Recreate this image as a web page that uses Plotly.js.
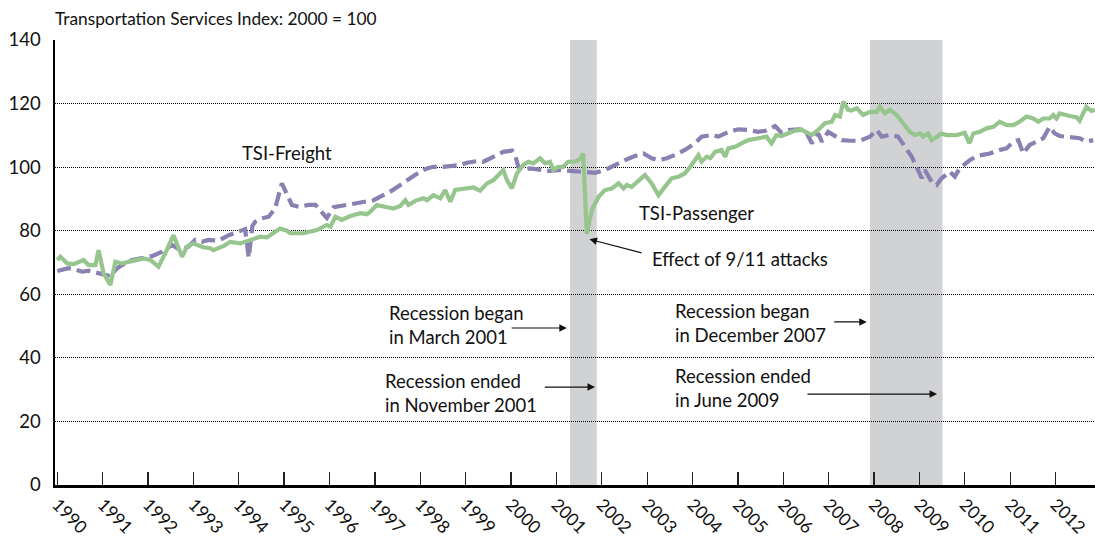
<!DOCTYPE html>
<html>
<head>
<meta charset="utf-8">
<script src="https://cdn.plot.ly/plotly-3.0.1.min.js"></script>
<style>
  html, body { margin: 0; padding: 0; background: #fff; }
  #chart { width: 1095px; height: 537px; }
</style>
</head>
<body>
<div id="chart"></div>
<script>
// ---- Data (x = decimal year) ----
const freightYears = [1990.00,1990.25,1990.40,1990.55,1990.69,1990.84,1991.00,1991.17,1991.32,1991.43,1991.65,1991.87,
  1992.09,1992.31,1992.53,1992.71,1992.89,1993.04,1993.19,1993.33,1993.56,1993.78,1993.96,1994.14,1994.22,1994.30,
  1994.36,1994.51,1994.66,1994.80,1994.95,1995.10,1995.17,1995.32,1995.54,1995.69,1995.83,1995.94,1996.09,1996.24,
  1996.38,1996.53,1996.75,1996.97,1997.12,1997.34,1997.56,1997.78,1998.00,1998.15,1998.29,1998.51,1998.73,1998.88,
  1999.03,1999.25,1999.39,1999.54,1999.69,1999.83,2000.02,2000.09,2000.16,2000.27,2000.42,2000.64,2000.86,2001.08,
  2001.30,2001.52,2001.74,2001.85,2002.07,2002.29,2002.51,2002.73,2002.92,2003.10,2003.25,2003.43,2003.61,2003.83,
  2004.05,2004.20,2004.42,2004.57,2004.79,2005.01,2005.23,2005.45,2005.63,2005.82,2005.96,2006.11,2006.33,2006.48,
  2006.63,2006.77,2006.85,2006.99,2007.14,2007.29,2007.47,2007.69,2007.91,2008.06,2008.17,2008.35,2008.53,2008.68,
  2008.83,2008.97,2009.05,2009.12,2009.27,2009.38,2009.49,2009.67,2009.78,2009.89,2010.11,2010.26,2010.41,2010.55,
  2010.77,2010.92,2011.07,2011.18,2011.29,2011.43,2011.58,2011.73,2011.87,2011.98,2012.09,2012.31,2012.53,2012.68,2012.83];
const freightValues = [67.3,68.2,67.8,67.1,67.4,66.8,66.5,65.7,68.2,69.2,70.8,71.3,
  72.0,73.4,75.5,73.9,75.0,77.1,76.5,77.1,76.9,78.6,79.7,80.5,71.5,81.5,
  82.8,83.9,84.4,87.0,94.9,90.7,88.1,87.5,88.1,88.1,86.0,84.0,87.4,87.8,
  88.1,88.4,89.1,89.6,90.7,92.3,94.4,96.5,98.6,99.6,100.1,100.1,100.3,100.7,
  101.4,101.9,101.7,102.8,103.8,104.8,105.2,103.8,100.1,99.1,99.6,99.1,98.8,99.1,
  98.9,98.6,98.2,98.2,99.1,100.7,102.2,103.5,104.3,102.8,102.2,102.8,103.8,105.4,
  107.5,109.6,110.1,109.6,111.1,111.9,111.7,111.1,111.5,112.9,110.8,111.7,111.9,111.7,
  107.5,110.6,108.0,111.1,109.6,108.5,108.3,108.3,109.6,111.7,109.6,110.1,109.6,106.4,
  103.3,99.1,96.5,99.1,95.4,94.4,96.5,98.6,97.0,99.6,102.2,103.5,103.8,104.3,
  105.4,105.9,108.0,108.5,104.3,107.0,108.0,109.1,112.7,110.6,109.8,109.6,109.1,108.0,108.5];

const passengerYears = [1990.00,1990.07,1990.22,1990.36,1990.58,1990.69,1990.84,1990.91,1991.02,1991.17,1991.28,1991.43,
  1991.57,1991.76,1991.90,1992.05,1992.23,1992.38,1992.56,1992.75,1992.86,1993.00,1993.22,1993.37,1993.44,1993.67,
  1993.81,1994.03,1994.25,1994.47,1994.62,1994.91,1995.06,1995.13,1995.43,1995.72,1995.94,1996.02,1996.13,1996.27,
  1996.46,1996.68,1996.82,1996.90,1997.04,1997.26,1997.41,1997.56,1997.67,1997.74,1997.89,1998.07,1998.15,1998.29,
  1998.44,1998.55,1998.66,1998.77,1998.95,1999.17,1999.32,1999.47,1999.61,1999.83,1999.91,2000.02,2000.13,2000.27,
  2000.38,2000.49,2000.64,2000.75,2000.86,2000.93,2001.04,2001.15,2001.26,2001.41,2001.52,2001.59,2001.67,2001.78,
  2001.93,2002.07,2002.22,2002.37,2002.48,2002.55,2002.66,2002.81,2002.95,2003.10,2003.25,2003.39,2003.54,2003.69,
  2003.83,2003.98,2004.13,2004.20,2004.31,2004.39,2004.50,2004.64,2004.72,2004.79,2004.94,2005.08,2005.23,2005.45,
  2005.63,2005.74,2005.85,2005.96,2006.11,2006.26,2006.41,2006.63,2006.77,2006.92,2007.07,2007.14,2007.25,2007.32,
  2007.43,2007.50,2007.62,2007.76,2007.91,2008.06,2008.13,2008.24,2008.35,2008.50,2008.64,2008.79,2008.90,2009.01,
  2009.08,2009.19,2009.27,2009.38,2009.49,2009.60,2009.82,2010.00,2010.10,2010.19,2010.33,2010.48,2010.63,2010.77,
  2010.92,2011.07,2011.21,2011.36,2011.51,2011.62,2011.73,2011.87,2011.95,2012.02,2012.09,2012.31,2012.46,2012.53,
  2012.68,2012.79,2012.87];
const passengerValues = [70.8,71.8,69.7,69.5,70.8,69.2,69.2,73.9,66.6,62.9,70.2,69.7,
  70.2,70.8,71.3,70.8,68.7,72.9,78.6,71.8,75.0,76.0,74.8,74.5,73.9,75.2,
  76.5,76.0,77.1,78.1,77.9,80.7,80.0,79.2,79.2,80.2,81.8,81.3,84.4,83.4,
  84.6,85.5,85.2,86.0,88.1,87.5,87.0,87.8,89.6,88.1,89.4,90.2,89.6,91.2,
  90.2,92.8,89.1,92.8,93.3,93.6,92.6,94.9,95.9,99.1,95.9,93.3,98.0,100.7,
  101.7,101.2,102.8,101.2,101.7,99.1,100.1,100.1,101.7,101.7,102.5,104.3,79.0,86.5,
  90.7,92.8,93.3,94.9,93.3,94.4,93.8,95.9,97.5,94.9,91.2,93.8,96.5,97.0,
  98.0,100.7,103.8,101.7,103.3,102.8,104.8,105.4,103.3,105.9,106.4,107.5,108.5,109.1,
  109.6,107.5,110.1,109.8,110.8,111.5,111.7,110.1,111.7,113.8,114.3,116.4,115.9,120.6,
  118.0,117.8,118.5,116.4,117.4,117.4,119.0,116.9,118.0,116.4,113.8,111.1,110.1,110.6,
  109.6,110.6,108.5,109.6,110.6,110.1,110.1,110.8,107.5,110.6,111.1,112.2,112.7,114.3,
  113.2,113.2,114.3,115.9,115.3,114.3,115.3,115.3,116.4,115.3,116.9,116.1,115.7,114.6,
  119.0,117.7,118.0];

const yearTicks = [1990,1991,1992,1993,1994,1995,1996,1997,1998,1999,2000,2001,2002,2003,2004,2005,2006,2007,2008,2009,2010,2011,2012];
const yTicks = [0,20,40,60,80,100,120,140];
const recessionStarts = [2001.30, 2007.91];
const recessionEnds = [2001.89, 2009.51];

// ---- Plot ----
const FONT = 'Lato, "Open Sans", sans-serif';
const ink = '#111111';

const traces = [
  { x: freightYears, y: freightValues, type: 'scatter', mode: 'lines', name: 'TSI-Freight',
    line: { color: '#8A80B2', width: 4.2, dash: '14px,6px' }, hoverinfo: 'skip' },
  { x: passengerYears, y: passengerValues, type: 'scatter', mode: 'lines', name: 'TSI-Passenger',
    line: { color: '#97C58E', width: 4.2 }, hoverinfo: 'skip' }
];

const shapes = recessionStarts.map((s, i) => ({
  type: 'rect', xref: 'x', yref: 'y', x0: s, x1: recessionEnds[i], y0: 0, y1: 140,
  fillcolor: '#D1D2D4', line: { width: 0 }, layer: 'below'
}));

function label(text, x, y, extra) {
  return Object.assign({ text, x, y, xref: 'x', yref: 'y', showarrow: false,
    xanchor: 'left', yanchor: 'middle', align: 'left',
    font: { family: FONT, size: 18.5, color: ink } }, extra || {});
}
function arrow(x0, y0, x1, y1) {
  return { text: '', x: x1, y: y1, ax: x0, ay: y0, xref: 'x', yref: 'y', axref: 'x', ayref: 'y',
    showarrow: true, arrowhead: 2, arrowsize: 1.25, arrowwidth: 1.2, arrowcolor: ink, standoff: 0, startstandoff: 0 };
}

const annotations = [
  label('TSI-Freight', 1994.03, 104.4),
  label('TSI-Passenger', 2002.78, 85.6),
  label('Effect of 9/11 attacks', 2003.07, 71.1),
  arrow(2002.91, 72.9, 2001.73, 77.3),
  label('Recession began<br>in March 2001', 1997.27, 50.3),
  arrow(1999.98, 49.4, 2001.23, 49.4),
  label('Recession ended<br>in November 2001', 1997.18, 28.9),
  arrow(2000.71, 30.8, 2001.85, 30.8),
  label('Recession began<br>in December 2007', 2003.57, 51.0),
  arrow(2007.09, 51.3, 2007.84, 51.3),
  label('Recession ended<br>in June 2009', 2003.57, 30.5),
  arrow(2006.50, 28.6, 2009.39, 28.6)
];

const layout = {
  width: 1095, height: 537,
  margin: { l: 55, r: 0, t: 40, b: 52, pad: 0 },
  paper_bgcolor: '#ffffff', plot_bgcolor: '#ffffff',
  showlegend: false,
  font: { family: FONT, size: 17, color: ink },
  title: { text: 'Transportation Services Index: 2000 = 100', x: 55 / 1095, xref: 'container', xanchor: 'left',
    y: 1 - 18.5 / 537, yref: 'container', yanchor: 'middle', font: { family: FONT, size: 17.3, color: ink } },
  xaxis: {
    range: [1989.95, 2012.87], tickmode: 'array', tickvals: yearTicks, ticktext: yearTicks.map(String),
    tickangle: 45, ticks: 'inside', ticklen: 13, tickwidth: 1.3, tickcolor: '#222',
    showgrid: false, zeroline: false, showline: true, linecolor: '#000', linewidth: 2.5,
    tickfont: { family: FONT, size: 17.5, color: ink }, fixedrange: true
  },
  yaxis: {
    range: [0, 140], tickmode: 'array', tickvals: yTicks, ticktext: yTicks.map(String),
    ticks: 'outside', ticklen: 8, tickcolor: 'rgba(0,0,0,0)',
    showgrid: true, gridcolor: '#000', gridwidth: 1, griddash: '1px,1px',
    zeroline: false, showline: true, linecolor: '#000', linewidth: 2.5,
    tickfont: { family: FONT, size: 18.5, color: ink }, fixedrange: true
  },
  shapes, annotations
};

Plotly.newPlot('chart', traces, layout, { staticPlot: true, displayModeBar: false });
</script>
</body>
</html>
